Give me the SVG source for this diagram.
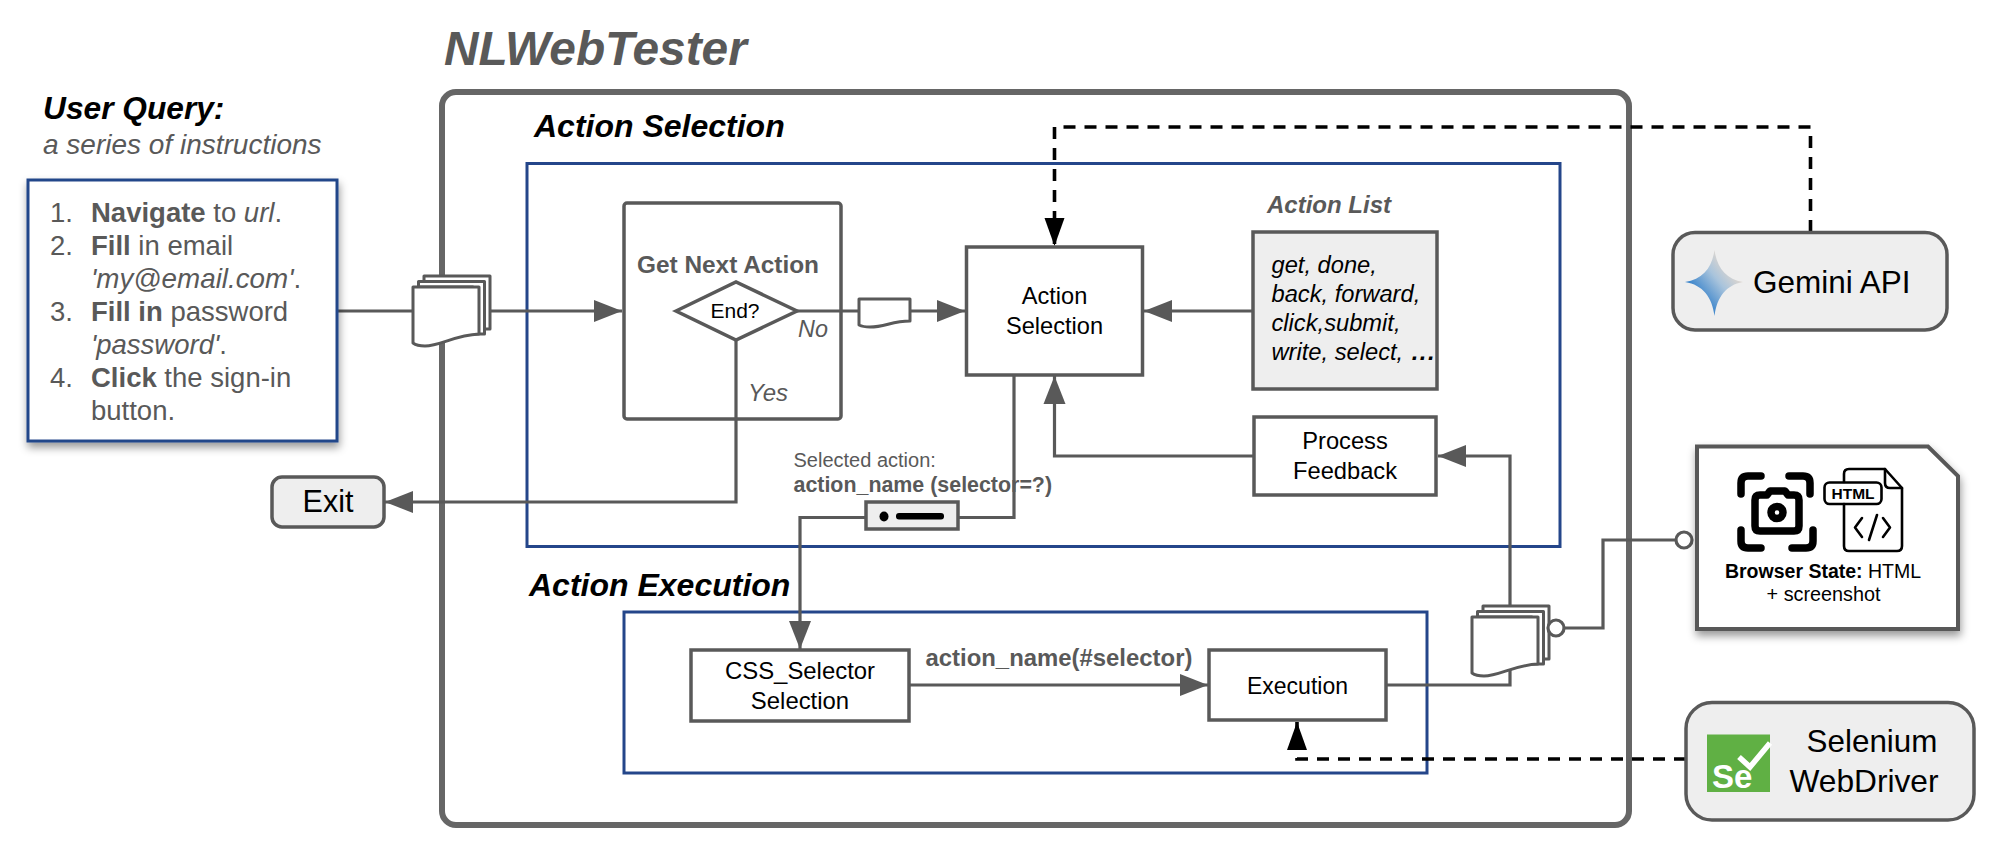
<svg xmlns="http://www.w3.org/2000/svg" width="2000" height="860" viewBox="0 0 2000 860">
<style>
text{font-family:"Liberation Sans",Arial,sans-serif;fill:#000}
.g{fill:#595959}
.b{font-weight:bold}
.i{font-style:italic}
.m{text-anchor:middle}
.ln{fill:none;stroke:#595959;stroke-width:3.2;stroke-linejoin:miter}
.box{fill:#fff;stroke:#595959;stroke-width:3.5}
.gray{fill:#eeeeee;stroke:#595959;stroke-width:3.5}
.blue{fill:none;stroke:#24468a;stroke-width:3}
.dash{fill:none;stroke:#000;stroke-width:3.6;stroke-dasharray:12 9}
.doc{fill:#fff;stroke:#595959;stroke-width:3;stroke-linejoin:round}
.ic{fill:none;stroke:#000;stroke-linejoin:round;stroke-linecap:round}
</style>
<defs>
<marker id="ga" markerUnits="userSpaceOnUse" markerWidth="30" markerHeight="24" refX="28" refY="12" orient="auto"><path d="M0,1 L28,12 L0,23 Z" fill="#595959"/></marker>
<marker id="ka" markerUnits="userSpaceOnUse" markerWidth="30" markerHeight="24" refX="28" refY="10" orient="auto"><path d="M0,0 L28,10 L0,20 Z" fill="#000"/></marker>
<filter id="sh" x="-10%" y="-10%" width="120%" height="120%"><feDropShadow dx="1" dy="5" stdDeviation="4" flood-color="#000" flood-opacity="0.4"/></filter>
<linearGradient id="gem" x1="0.15" y1="0.85" x2="0.85" y2="0.2"><stop offset="0.2" stop-color="#3f87cc"/><stop offset="0.6" stop-color="#a9c4dc"/><stop offset="1" stop-color="#efdccb"/></linearGradient>
<g id="stack">
<path class="doc" d="M11,-11 H77 V42 H60 V0 H11 Z"/>
<path class="doc" d="M5.500,-5.500 H71.500 V47 H60 V0 H5.500 Z"/>
<path class="doc" d="M0,0 H66 V47 C42,48 27,59 12,59 Q4,59 0,56 Z"/>
</g>
</defs>
<rect width="2000" height="860" fill="#fff"/>

<text id="title" class="g b i" x="444" y="65" font-size="47.800">NLWebTester</text>
<g id="nlwebtester"><rect x="442" y="92" width="1187" height="733" rx="14" fill="none" stroke="#666" stroke-width="6"/></g>
<g id="action-selection-frame"><rect x="527" y="163.500" width="1033" height="383" class="blue"/><text class="b i" x="534" y="137" font-size="32">Action Selection</text></g>
<g id="action-execution-frame"><rect x="624" y="612" width="803" height="161" class="blue"/><text class="b i" x="529" y="596" font-size="32">Action Execution</text></g>

<g id="connectors">
<path class="ln" d="M337,311 H622" marker-end="url(#ga)"/>
<path class="ln" d="M797,311 H965" marker-end="url(#ga)"/>
<path class="ln" d="M1253,311 H1144" marker-end="url(#ga)"/>
<path class="ln" d="M1254,456 H1054.500 V376" marker-end="url(#ga)"/>
<path class="ln" d="M736,340 V502 H385" marker-end="url(#ga)"/>
<path class="ln" d="M1014,375 V517.500 H800 V649" marker-end="url(#ga)"/>
<path class="ln" d="M909,685 H1208" marker-end="url(#ga)"/>
<path class="ln" d="M1386,685 H1510 V456 H1438" marker-end="url(#ga)"/>
<path class="ln" d="M1564,628 H1603 V540 H1676"/>
<path class="dash" d="M1810.500,232 V127 H1054.500 V246" marker-end="url(#ka)"/>
<path class="dash" d="M1686,759 H1297 V722" marker-end="url(#ka)"/>
</g>

<g id="query-title"><text class="b i" x="43" y="119" font-size="31.700">User Query:</text><text class="g i" x="43" y="154" font-size="28">a series of instructions</text></g>
<g id="query">
<rect x="28" y="180" width="309" height="261" fill="#fff" stroke="#24468a" stroke-width="3" filter="url(#sh)"/>
<text class="g" x="50" y="222" font-size="27.500">1.</text><text class="g" x="91" y="222" font-size="27.500"><tspan class="b">Navigate</tspan> to <tspan class="i">url</tspan>.</text>
<text class="g" x="50" y="254.500" font-size="27.500">2.</text><text class="g" x="91" y="254.500" font-size="27.500"><tspan class="b">Fill</tspan> in email</text>
<text class="g" x="91" y="287.500" font-size="27.800"><tspan class="i">'my@email.com'</tspan>.</text>
<text class="g" x="50" y="320.500" font-size="27.500">3.</text><text class="g" x="91" y="320.500" font-size="27.500"><tspan class="b">Fill in</tspan> password</text>
<text class="g" x="91" y="353.500" font-size="27.500"><tspan class="i">'password'</tspan>.</text>
<text class="g" x="50" y="386.500" font-size="27.500">4.</text><text class="g" x="91" y="386.500" font-size="27.500"><tspan class="b">Click</tspan> the sign-in</text>
<text class="g" x="91" y="419.500" font-size="27.500">button.</text>
</g>
<g id="exit"><rect x="272" y="477" width="112" height="50" rx="10" class="gray"/><text class="m" x="328" y="512" font-size="30.500">Exit</text></g>
<use id="input-docs" href="#stack" x="413" y="287"/>
<g id="get-next-action"><rect x="624" y="203" width="217" height="216" rx="3" fill="none" stroke="#595959" stroke-width="3.500"/><text class="g b m" x="728" y="273" font-size="24.400">Get Next Action</text></g>
<g id="end"><path d="M676,311 L736,282 L797,311 L736,340 Z" class="box"/><text class="m" x="735" y="318" font-size="21">End?</text></g>
<text id="no" class="g i" x="798" y="337" font-size="23.400">No</text>
<text id="yes" class="g i" x="748" y="401" font-size="24">Yes</text>
<path id="mini-doc" class="doc" d="M859,299 H910 V321 C892,321 885,327 870,327 Q863,327 859,325 Z"/>
<g id="action-selection"><rect x="966.500" y="247" width="176" height="128" class="box"/><text class="m" x="1054.500" y="304" font-size="23.600">Action</text><text class="m" x="1054.500" y="334" font-size="23.600">Selection</text></g>
<g id="action-list"><text class="g b i" x="1267" y="213" font-size="24">Action List</text><rect x="1253" y="232" width="184" height="157" class="gray"/>
<text class="i" x="1271.500" y="273" font-size="23.700">get, done,</text>
<text class="i" x="1271.500" y="302" font-size="23.700">back, forward,</text>
<text class="i" x="1271.500" y="331" font-size="23.700">click,submit,</text>
<text class="i" x="1271.500" y="360" font-size="23.700">write, select, <tspan class="b" letter-spacing="1.500" dx="2">...</tspan></text></g>
<g id="process-feedback"><rect x="1254" y="417" width="182" height="78" class="box"/><text class="m" x="1345" y="449" font-size="23.700">Process</text><text class="m" x="1345" y="479" font-size="23.700">Feedback</text></g>
<g id="selected-action"><text class="g" x="793.500" y="467" font-size="20">Selected action:</text><text class="g b" x="793.500" y="492" font-size="21.400">action_name (selector=?)</text>
<rect x="866" y="502" width="92" height="27" class="gray"/><ellipse cx="884" cy="516.500" rx="4.500" ry="5" fill="#000"/><rect x="896" y="513" width="48" height="6.500" rx="3" fill="#000"/></g>
<g id="css-selector"><rect x="691" y="650" width="218" height="71" class="box"/><text class="m" x="800" y="679" font-size="23.900">CSS_Selector</text><text class="m" x="800" y="709" font-size="23.900">Selection</text></g>
<text id="call-label" class="g b" x="925.500" y="666" font-size="23.900">action_name(#selector)</text>
<g id="execution"><rect x="1209" y="650" width="177" height="70" class="box"/><text class="m" x="1297.500" y="694" font-size="23">Execution</text></g>
<use id="state-docs" href="#stack" x="1472" y="617"/>
<circle id="state-port" cx="1556" cy="628" r="8" fill="#fff" stroke="#595959" stroke-width="3.200"/>

<g id="gemini"><rect x="1673" y="232.500" width="274" height="97.500" rx="22" class="gray"/>
<path d="M1714.500,250 C1717,268 1726,279 1743,282 C1726,285 1717,297 1714.500,316 C1712,297 1703,285 1685,282 C1703,279 1712,268 1714.500,250 Z" fill="url(#gem)"/>
<text x="1753" y="293" font-size="31.500">Gemini API</text></g>

<circle id="browser-port" cx="1684" cy="540" r="8" fill="#fff" stroke="#595959" stroke-width="3.200"/>
<g id="browser-state"><path d="M1697,446.500 H1928 L1958,476 V629 H1697 Z" fill="#fff" stroke="#595959" stroke-width="4" filter="url(#sh)"/>
<g class="ic" stroke-width="7.500">
<path d="M1761,476 H1748 Q1741,476 1741,483 V494"/><path d="M1789,476 H1803 Q1810,476 1810,483 V494"/>
<path d="M1741,530 V541 Q1741,548 1748,548 H1761"/><path d="M1792,548 H1806 Q1813,548 1813,541 V530"/>
<path d="M1755,500 Q1755,495 1760,495 H1767 L1770,491 H1785 L1788,495 H1794 Q1799,495 1799,500 V526 Q1799,531 1794,531 H1760 Q1755,531 1755,526 Z"/>
<ellipse cx="1777" cy="512.500" rx="6" ry="6"/>
</g>
<g class="ic" stroke-width="2.600">
<path d="M1844,482 V474 Q1844,469 1849,469 H1885 L1902,488 V546 Q1902,551 1897,551 H1849 Q1844,551 1844,546 V504"/>
<path d="M1885,469 V483 Q1885,488 1890,488 H1902"/>
<rect x="1824.500" y="482.500" width="57" height="21.500" rx="5"/>
<path d="M1862,518 L1855,527.500 L1862,537 M1883,518 L1890,527.500 L1883,537 M1877,515 L1869,540"/>
</g>
<text class="b m" x="1853" y="499" font-size="15.500">HTML</text>
<text class="m" x="1823" y="578" font-size="19.500"><tspan class="b">Browser State:</tspan> HTML</text>
<text class="m" x="1823.500" y="601" font-size="19.800">+ screenshot</text></g>

<g id="selenium"><rect x="1686" y="702.500" width="288" height="117.500" rx="26" class="gray"/>
<rect x="1707" y="734.500" width="63" height="57.500" fill="#60b044"/>
<path d="M1739,757 L1750,767 L1770,743" fill="none" stroke="#fff" stroke-width="5.500"/>
<text class="b" x="1712" y="788" font-size="33" style="fill:#fff">Se</text>
<text class="m" x="1872" y="752" font-size="31.400">Selenium</text><text class="m" x="1864" y="792" font-size="31.700">WebDriver</text></g>
</svg>
